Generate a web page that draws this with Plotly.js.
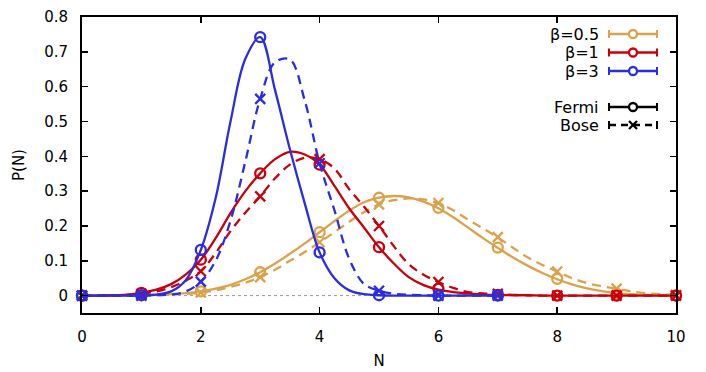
<!DOCTYPE html>
<html>
<head>
<meta charset="utf-8">
<script src="https://cdn.plot.ly/plotly-3.0.1.min.js"></script>
<style>
  body { margin: 0; background: #fff; }
  #myDiv { width: 706px; height: 372px; }
</style>
</head>
<body>
<div id="myDiv"></div>
<script>
// sampled points (markers)
var N = [0, 1, 2, 3, 4, 5, 6, 7, 8, 9, 10];
var NBlue = [0, 1, 2, 3, 4, 5, 6, 7];

var goldFermi = [0, 0.001, 0.012, 0.067, 0.182, 0.281, 0.252, 0.138, 0.048, 0.006, 0.001];
var goldBose = [0, 0.001, 0.009, 0.053, 0.153, 0.262, 0.266, 0.168, 0.069, 0.02, 0.002];
var redFermi = [0, 0.008, 0.103, 0.351, 0.376, 0.139, 0.02, 0.002, 0, 0, 0];
var redBose = [0, 0.005, 0.07, 0.285, 0.392, 0.2, 0.039, 0.005, 0, 0, 0];
var blueFermi = [0, 0.001, 0.131, 0.742, 0.124, 0.001, 0, 0];
var blueBose = [0, 0, 0.04, 0.565, 0.38, 0.014, 0, 0];

// curves every 0.25
var curveN = [0, 0.25, 0.5, 0.75, 1, 1.25, 1.5, 1.75, 2, 2.25, 2.5, 2.75, 3, 3.25, 3.5, 3.75,
  4, 4.25, 4.5, 4.75, 5, 5.25, 5.5, 5.75, 6, 6.25, 6.5, 6.75, 7, 7.25, 7.5, 7.75,
  8, 8.25, 8.5, 8.75, 9, 9.25, 9.5, 9.75, 10];

var goldFermiCurve = [0, 0, 0, 0.0005, 0.001, 0.002, 0.004, 0.007, 0.012, 0.02, 0.031, 0.047, 0.067, 0.092, 0.12, 0.15,
  0.182, 0.214, 0.244, 0.268, 0.281, 0.286, 0.282, 0.27, 0.251, 0.225, 0.195, 0.165, 0.137, 0.11, 0.086, 0.065,
  0.047, 0.032, 0.021, 0.013, 0.007, 0.004, 0.002, 0.001, 0.0005];
var goldBoseCurve = [0, 0, 0, 0, 0.0005, 0.001, 0.003, 0.005, 0.009, 0.015, 0.025, 0.037, 0.053, 0.074, 0.1, 0.125,
  0.153, 0.182, 0.212, 0.24, 0.262, 0.274, 0.279, 0.276, 0.265, 0.245, 0.218, 0.193, 0.167, 0.138, 0.11, 0.088,
  0.069, 0.05, 0.036, 0.027, 0.02, 0.012, 0.007, 0.004, 0.002];
var redFermiCurve = [0, 0, 0.001, 0.003, 0.008, 0.017, 0.033, 0.061, 0.103, 0.165, 0.237, 0.3, 0.351, 0.392, 0.413, 0.405,
  0.376, 0.315, 0.25, 0.195, 0.139, 0.092, 0.053, 0.03, 0.017, 0.01, 0.006, 0.003, 0.002, 0.001, 0.001, 0,
  0, 0, 0, 0, 0, 0, 0, 0, 0];
var redBoseCurve = [0, 0, 0.0005, 0.002, 0.005, 0.012, 0.024, 0.043, 0.07, 0.122, 0.185, 0.238, 0.285, 0.337, 0.376, 0.396,
  0.392, 0.365, 0.305, 0.255, 0.2, 0.142, 0.09, 0.06, 0.039, 0.022, 0.01, 0.006, 0.004, 0.002, 0.001, 0,
  0, 0, 0, 0, 0, 0, 0, 0, 0];
// blue curves stop at N=7
var blueFermiCurve = [0, 0, 0, 0, 0.001, 0.003, 0.012, 0.045, 0.131, 0.28, 0.5, 0.68, 0.742, 0.59, 0.42, 0.265,
  0.124, 0.05, 0.015, 0.004, 0.001, 0, 0, 0, 0, 0, 0, 0, 0];
var blueBoseCurve = [0, 0, 0, 0, 0, 0.001, 0.003, 0.012, 0.04, 0.1, 0.215, 0.385, 0.565, 0.67, 0.678, 0.56,
  0.38, 0.245, 0.105, 0.033, 0.014, 0.005, 0.002, 0.001, 0, 0, 0, 0, 0];

var gold = '#dba24e';
var red = '#c8000c';
var blue = '#2c2ce0';

var dash = '9px,6px';

function curve(x, y, color, dashed) {
  return {
    x: x, y: y, type: 'scatter', mode: 'lines',
    line: { color: color, width: 2.3, shape: 'spline', smoothing: 1, dash: dashed ? dash : 'solid' },
    hoverinfo: 'skip', showlegend: false, cliponaxis: false
  };
}
function pts(x, y, color, sym) {
  return {
    x: x, y: y, type: 'scatter', mode: 'markers',
    marker: { symbol: sym, size: 10, color: color, line: { color: color, width: 2.3 } },
    showlegend: false, cliponaxis: false
  };
}

var blueN = curveN.slice(0, blueFermiCurve.length);

var data = [
  curve(curveN, goldFermiCurve, gold, false),
  curve(curveN, goldBoseCurve, gold, true),
  pts(N, goldFermi, gold, 'circle-open'),
  pts(N, goldBose, gold, 'x-thin-open'),
  curve(curveN, redFermiCurve, red, false),
  curve(curveN, redBoseCurve, red, true),
  pts(N, redFermi, red, 'circle-open'),
  pts(N, redBose, red, 'x-thin-open'),
  curve(blueN, blueFermiCurve, blue, false),
  curve(blueN, blueBoseCurve, blue, true),
  pts(NBlue, blueFermi, blue, 'circle-open'),
  pts(NBlue, blueBose, blue, 'x-thin-open')
];

// hand-made legend, gnuplot style (pixel -> paper)
var L = 82, W = 594, T = 17, H = 296;
function px(x) { return (x - L) / W; }
function py(y) { return (T + H - y) / H; }

var legendRows = [
  { label: 'β=0.5', color: gold, y: 34, dashed: false, sym: 'o' },
  { label: 'β=1', color: red, y: 52.5, dashed: false, sym: 'o' },
  { label: 'β=3', color: blue, y: 71, dashed: false, sym: 'o' },
  { label: 'Fermi', color: '#000', y: 107, dashed: false, sym: 'o' },
  { label: 'Bose', color: '#000', y: 125, dashed: true, sym: 'x' }
];

var shapes = [
  { type: 'line', xref: 'x', yref: 'y', x0: 0, x1: 10, y0: 0, y1: 0, layer: 'below',
    line: { color: '#999', width: 1, dash: 'dot' } }
];
var annotations = [];
legendRows.forEach(function (r) {
  var c = r.color;
  annotations.push({
    xref: 'paper', yref: 'paper', x: px(601), y: py(r.y), xanchor: 'right', yanchor: 'middle',
    text: r.label, showarrow: false, font: { family: 'DejaVu Sans', size: 16, color: '#000' }
  });
  shapes.push({ type: 'line', xref: 'paper', yref: 'paper', x0: px(609), x1: px(657), y0: py(r.y), y1: py(r.y),
    line: { color: c, width: 2.3, dash: r.dashed ? '7px,5px' : 'solid' } });
  shapes.push({ type: 'line', xref: 'paper', yref: 'paper', x0: px(609), x1: px(609), y0: py(r.y - 4), y1: py(r.y + 4),
    line: { color: c, width: 2 } });
  shapes.push({ type: 'line', xref: 'paper', yref: 'paper', x0: px(657), x1: px(657), y0: py(r.y - 4), y1: py(r.y + 4),
    line: { color: c, width: 2 } });
  if (r.sym === 'o') {
    shapes.push({ type: 'circle', xref: 'paper', yref: 'paper', x0: px(629), x1: px(637), y0: py(r.y - 4), y1: py(r.y + 4),
      fillcolor: '#fff', line: { color: c, width: 2.3 } });
  } else {
    shapes.push({ type: 'line', xref: 'paper', yref: 'paper', x0: px(629), x1: px(637), y0: py(r.y - 4), y1: py(r.y + 4),
      line: { color: c, width: 2.3 } });
    shapes.push({ type: 'line', xref: 'paper', yref: 'paper', x0: px(629), x1: px(637), y0: py(r.y + 4), y1: py(r.y - 4),
      line: { color: c, width: 2.3 } });
  }
});

var axisFont = { family: 'DejaVu Sans', size: 15, color: '#000' };

var layout = {
  width: 706, height: 372,
  margin: { l: L, r: 706 - L - W, t: T, b: 372 - T - H },
  paper_bgcolor: '#fff', plot_bgcolor: '#fff',
  showlegend: false,
  font: axisFont,
  xaxis: {
    range: [0, 10], tickvals: [0, 2, 4, 6, 8, 10], ticktext: ['0', '2', '4', '6', '8', '10'],
    ticks: 'inside', ticklen: 6, tickwidth: 1.5, tickcolor: '#000',
    showline: true, linewidth: 2, linecolor: '#000', mirror: 'ticks',
    showgrid: false, zeroline: false, tickfont: axisFont, ticklabelstandoff: 9,
    title: { text: 'N', font: axisFont, standoff: 10 }
  },
  yaxis: {
    range: [-0.05, 0.8], tickvals: [0, 0.1, 0.2, 0.3, 0.4, 0.5, 0.6, 0.7, 0.8],
    ticktext: ['0', '0.1', '0.2', '0.3', '0.4', '0.5', '0.6', '0.7', '0.8'],
    ticks: 'inside', ticklen: 6, tickwidth: 1.5, tickcolor: '#000',
    showline: true, linewidth: 2, linecolor: '#000', mirror: 'ticks',
    showgrid: false, zeroline: false, tickfont: axisFont, ticklabelstandoff: 9,
    title: { text: 'P(N)', font: axisFont, standoff: 16 }
  },
  shapes: shapes,
  annotations: annotations
};

Plotly.newPlot('myDiv', data, layout, { staticPlot: true });
</script>
</body>
</html>
